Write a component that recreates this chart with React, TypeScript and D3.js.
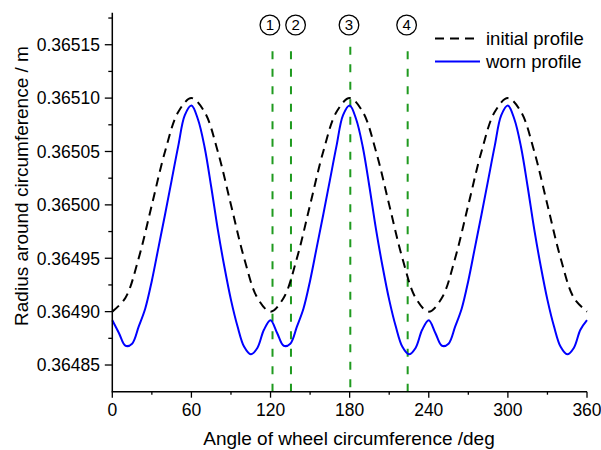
import React from "react";
import * as d3 from "d3";

const W = 601;
const H = 450;
const margin = { left: 112.3, right: 14, top: 12.7, bottom: 58.3 };

// Axis ticks
const xTicks = [0, 60, 120, 180, 240, 300, 360];
const xMinorTicks = [30, 90, 150, 210, 270, 330];
const yTicks = [0.36485, 0.3649, 0.36495, 0.365, 0.36505, 0.3651, 0.36515];
const yTickLabels = ["0.36485", "0.36490", "0.36495", "0.36500", "0.36505", "0.36510", "0.36515"];
const yMinorTicks = [0.364875, 0.364925, 0.364975, 0.365025, 0.365075, 0.365125, 0.365175];

// Initial (unworn) wheel radius, every 10 degrees
const initialAngles = [
  0, 10, 20, 30, 40, 50, 60, 70, 80, 90, 100, 110, 120,
  130, 140, 150, 160, 170, 180, 190, 200, 210, 220, 230, 240,
  250, 260, 270, 280, 290, 300, 310, 320, 330, 340, 350, 360,
];
const initialRadius = [
  0.3649, 0.364913, 0.36495, 0.365, 0.36505, 0.365087, 0.3651, 0.365087, 0.36505, 0.365, 0.36495, 0.364913, 0.3649,
  0.364913, 0.36495, 0.365, 0.36505, 0.365087, 0.3651, 0.365087, 0.36505, 0.365, 0.36495, 0.364913, 0.3649,
  0.364913, 0.36495, 0.365, 0.36505, 0.365087, 0.3651, 0.365087, 0.36505, 0.365, 0.36495, 0.364913, 0.3649,
];

// Worn wheel radius, every 5 degrees
const wornAngles = [
  0, 5, 10, 15, 20, 25, 30, 35, 40, 45, 50, 55, 60, 65, 70, 75, 80, 85, 90, 95, 100, 105, 110, 115,
  120, 125, 130, 135, 140, 145, 150, 155, 160, 165, 170, 175, 180, 185, 190, 195, 200, 205, 210, 215, 220, 225, 230, 235,
  240, 245, 250, 255, 260, 265, 270, 275, 280, 285, 290, 295, 300, 305, 310, 315, 320, 325, 330, 335, 340, 345, 350, 355,
  360,
];
const wornRadius = [
  0.364892, 0.36488, 0.364868, 0.36487, 0.364886, 0.364903, 0.364929, 0.36496, 0.364991, 0.365023, 0.365055, 0.365084,
  0.365093, 0.36508, 0.365054, 0.365017, 0.364977, 0.364942, 0.364911, 0.364886, 0.364867, 0.36486, 0.364866, 0.364883,
  0.364892, 0.36488, 0.364868, 0.36487, 0.364886, 0.364903, 0.364929, 0.36496, 0.364991, 0.365023, 0.365055, 0.365084,
  0.365093, 0.36508, 0.365054, 0.365017, 0.364977, 0.364942, 0.364911, 0.364886, 0.364867, 0.36486, 0.364866, 0.364883,
  0.364892, 0.36488, 0.364868, 0.36487, 0.364886, 0.364903, 0.364929, 0.36496, 0.364991, 0.365023, 0.365055, 0.365084,
  0.365093, 0.36508, 0.365054, 0.365017, 0.364977, 0.364942, 0.364911, 0.364886, 0.364867, 0.36486, 0.364866, 0.364883,
  0.364892,
];

// Marked positions around the circumference
const markerAngles = [121.5, 135.5, 180.5, 224];
const markerTops = [0.365144, 0.365144, 0.365148, 0.365144];
const markerLabels = ["1", "2", "3", "4"];
const markerLabelAngles = [119.5, 139, 179.5, 223.2];

const legendLabels = ["initial profile", "worn profile"];

const FONT = "'Liberation Sans', Arial, sans-serif";

export default function App() {
  const x = d3.scaleLinear().domain([0, 360]).range([margin.left, W - margin.right]);
  const y = d3.scaleLinear().domain([0.364825, 0.36518]).range([H - margin.bottom, margin.top]);

  const line = d3
    .line<[number, number]>()
    .x((d) => x(d[0]))
    .y((d) => y(d[1]))
    .curve(d3.curveCatmullRom.alpha(0.5));

  const initialPath = line(initialAngles.map((a, i) => [a, initialRadius[i]]) as [number, number][]) || "";
  const wornPath = line(wornAngles.map((a, i) => [a, wornRadius[i]]) as [number, number][]) || "";

  const x0 = x(0);
  const yBottom = y(0.364825);
  const yTop = y(0.36518);

  return (
    <svg width={W} height={H} style={{ display: "block", position: "absolute", left: 0, top: 0, background: "#fff" }} fontFamily={FONT}>
      <rect x={0} y={0} width={W} height={H} fill="#fff" />

      {/* marker lines */}
      {markerAngles.map((a, i) => (
        <line
          key={"m" + i}
          x1={x(a)}
          x2={x(a)}
          y1={y(markerTops[i])}
          y2={yBottom}
          stroke="#1f9a1f"
          strokeWidth={2}
          strokeDasharray="8,9.5"
        />
      ))}
      {markerLabelAngles.map((a, i) => (
        <g key={"ml" + i} transform={`translate(${x(a)},25)`}>
          <circle r={9.8} fill="#fff" stroke="#000" strokeWidth={1.3} />
          <text textAnchor="middle" dy="0.36em" fontSize={15} fill="#000">
            {markerLabels[i]}
          </text>
        </g>
      ))}

      {/* profiles */}
      <path d={initialPath} fill="none" stroke="#000" strokeWidth={2} strokeDasharray="9,6" />
      <path d={wornPath} fill="none" stroke="#0000ff" strokeWidth={2} />

      {/* axes */}
      <line x1={x0} x2={x0} y1={yTop} y2={yBottom + 0.5} stroke="#000" strokeWidth={1.5} />
      <line x1={x0 - 0.5} x2={x(360)} y1={yBottom} y2={yBottom} stroke="#000" strokeWidth={1.5} />

      {xTicks.map((t) => (
        <g key={"xt" + t}>
          <line x1={x(t)} x2={x(t)} y1={yBottom} y2={yBottom + 6} stroke="#000" strokeWidth={1.3} />
          <text x={x(t)} y={416} textAnchor="middle" fontSize={17.5} fill="#000">
            {t}
          </text>
        </g>
      ))}
      {xMinorTicks.map((t) => (
        <line key={"xm" + t} x1={x(t)} x2={x(t)} y1={yBottom} y2={yBottom + 3} stroke="#000" strokeWidth={1.3} />
      ))}

      {yTicks.map((t, i) => (
        <g key={"yt" + i}>
          <line x1={x0 - 7.5} x2={x0} y1={y(t)} y2={y(t)} stroke="#000" strokeWidth={1.3} />
          <text x={100} y={y(t)} dy="0.36em" textAnchor="end" fontSize={17.5} fill="#000">
            {yTickLabels[i]}
          </text>
        </g>
      ))}
      {yMinorTicks.map((t, i) => (
        <line key={"ym" + i} x1={x0 - 4} x2={x0} y1={y(t)} y2={y(t)} stroke="#000" strokeWidth={1.3} />
      ))}

      {/* axis titles */}
      <text x={349} y={445} textAnchor="middle" fontSize={19} fill="#000">
        Angle of wheel circumference /deg
      </text>
      <text
        transform={`translate(21,186) rotate(-90)`}
        textAnchor="middle"
        dy="0.36em"
        fontSize={19}
        fill="#000"
      >
        Radius around circumference / m
      </text>

      {/* legend */}
      <line x1={435} x2={480} y1={38.5} y2={38.5} stroke="#000" strokeWidth={2} strokeDasharray="9,6" />
      <text x={486} y={44.5} fontSize={18.5} fill="#000">
        {legendLabels[0]}
      </text>
      <line x1={435} x2={480} y1={61.5} y2={61.5} stroke="#0000ff" strokeWidth={2} />
      <text x={486} y={67.5} fontSize={18.5} fill="#000">
        {legendLabels[1]}
      </text>
    </svg>
  );
}
